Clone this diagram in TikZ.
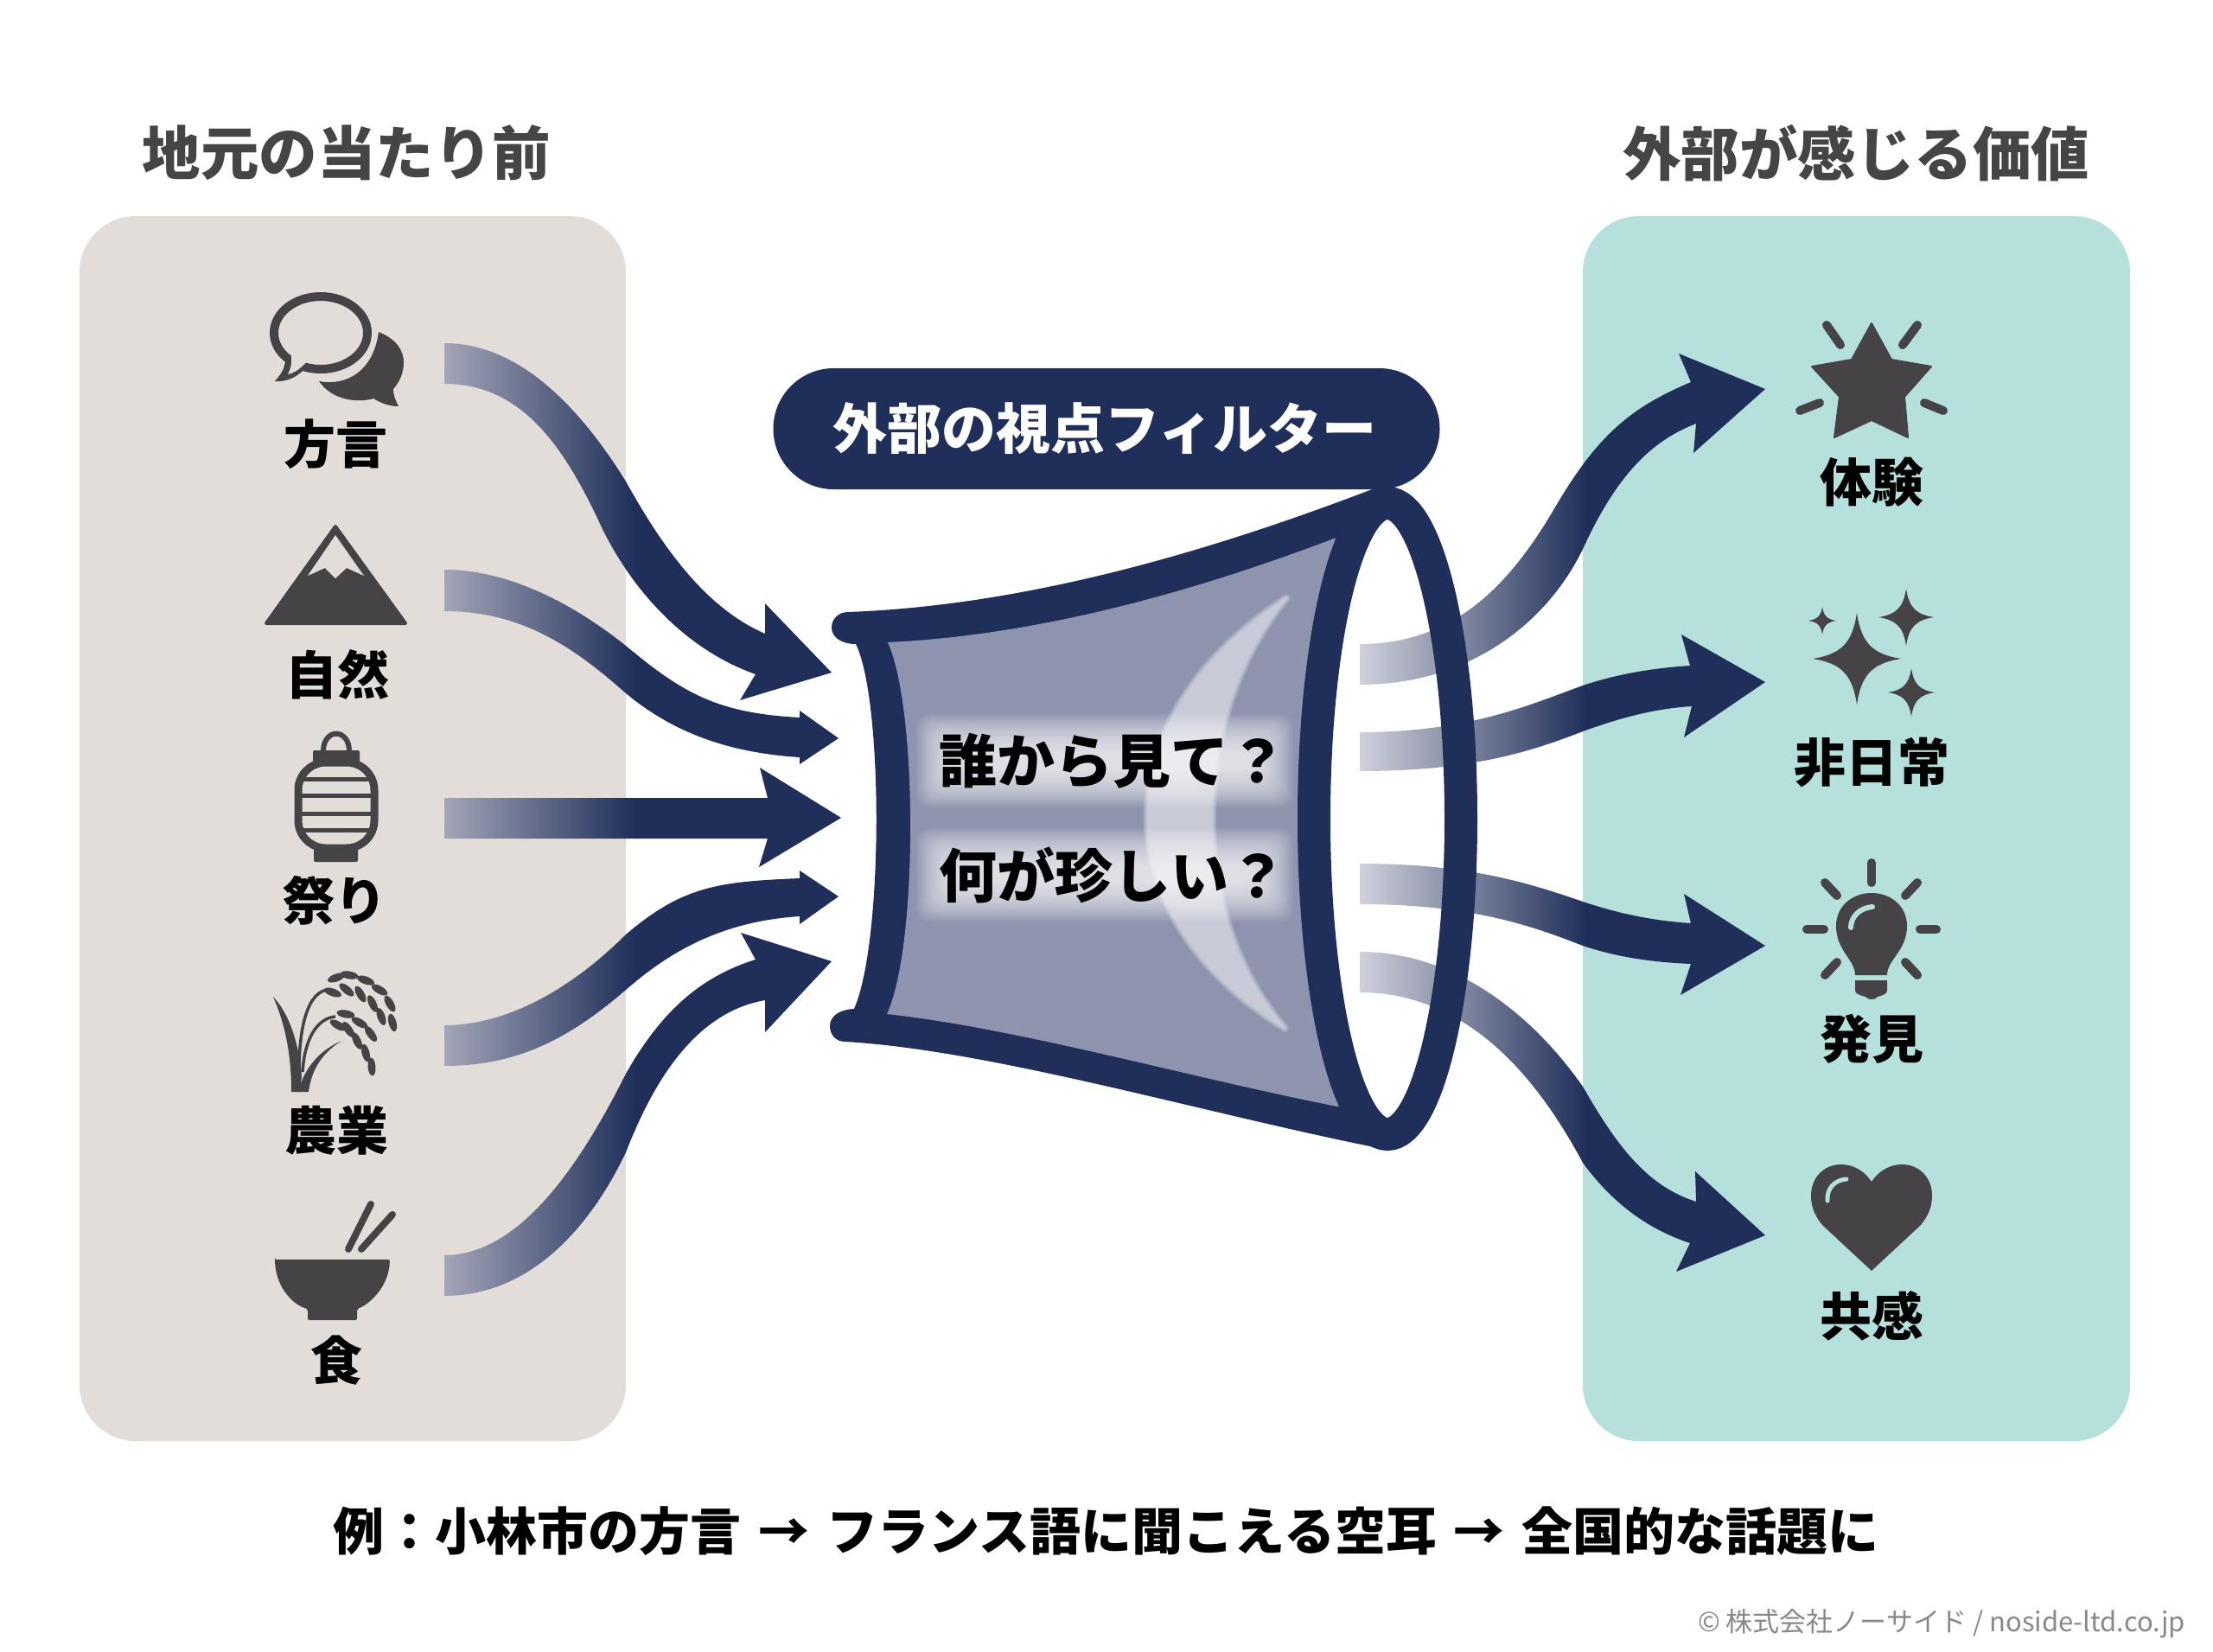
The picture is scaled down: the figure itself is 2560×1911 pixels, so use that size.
\documentclass[tikz,border=0pt]{standalone}
\usepackage{fontspec}
\newfontfamily\jp{Noto Sans CJK JP}
\definecolor{navy}{HTML}{1F2F5A}
\definecolor{icon}{HTML}{454345}
\definecolor{head}{HTML}{454545}
\definecolor{lpanel}{HTML}{E2DDD8}
\definecolor{rpanel}{HTML}{B6E0DC}
\definecolor{membrane}{HTML}{8E94AE}
\definecolor{fadeL}{HTML}{A3A5B8}
\definecolor{fadeR}{HTML}{D0D1DB}
\definecolor{copyr}{HTML}{888888}
\newcommand{\jpsize}[1]{\jp\fontsize{#1}{#1}\selectfont}
\tikzset{
  panelbox/.style={rounded corners=65pt},
  headtext/.style={inner sep=0pt,text=head,font=\jpsize{67.5}\bfseries},
  itemtext/.style={inner sep=0pt,text=black,font=\jpsize{60}\bfseries},
  asktext/.style={inner sep=0pt,anchor=west,text=black,font=\jpsize{67}\bfseries},
  iconfill/.style={fill=icon,draw=icon,line width=2pt,line join=round},
  rayline/.style={draw=icon,line width=10pt,line cap=round},
}
\newcommand{\flowarrow}[4]{%
  \begin{scope}
    \clip #4;
    \shade[left color=#3,right color=navy] (#1,0) rectangle (#2,1911);
    \fill[navy] ({#2-1},0) rectangle (2100,1911);
  \end{scope}}
\newcommand{\mygrain}[3]{\fill[icon,shift={(#1,#2)},rotate=-#3] (0,0) circle[x radius=10.5pt,y radius=4.5pt];}
\newcommand{\sparkle}[4]{\fill[icon] (#1,{#2-#4})
  .. controls ({#1+0.1*#3},{#2-0.35*#4}) and ({#1+0.35*#3},{#2-0.1*#4}) .. ({#1+#3},#2)
  .. controls ({#1+0.35*#3},{#2+0.1*#4}) and ({#1+0.1*#3},{#2+0.35*#4}) .. (#1,{#2+#4})
  .. controls ({#1-0.1*#3},{#2+0.35*#4}) and ({#1-0.35*#3},{#2+0.1*#4}) .. ({#1-#3},#2)
  .. controls ({#1-0.35*#3},{#2-0.1*#4}) and ({#1-0.1*#3},{#2-0.35*#4}) .. cycle;}
\begin{document}
\begin{tikzpicture}[x=1pt,y=-1pt]
\useasboundingbox (0,0) rectangle (2560,1911);
\fill[white] (0,0) rectangle (2560,1911);

% panels
\fill[lpanel,panelbox] (92,250) rectangle (724,1667);
\fill[rpanel,panelbox] (1831,250) rectangle (2464,1667);

% headings
\node[headtext] (hl) at (401,177) {地元の当たり前};
\node[headtext] (hr) at (2147,177) {外部が感じる価値};

% named ends of the connectors
\coordinate (a1s) at (514,397); \coordinate (a1b) at (514,444); \coordinate (a1t) at (962,778);
\coordinate (a2s) at (514,659); \coordinate (a2b) at (514,707); \coordinate (a2t) at (970,854);
\coordinate (a3s) at (514,923); \coordinate (a3b) at (514,970); \coordinate (a3t) at (973,946);
\coordinate (a4s) at (514,1186); \coordinate (a4b) at (514,1233); \coordinate (a4t) at (970,1037);
\coordinate (a5s) at (514,1452); \coordinate (a5b) at (514,1499); \coordinate (a5t) at (962,1112);
\coordinate (b1s) at (1573,745); \coordinate (b1b) at (1573,792); \coordinate (b1t) at (2042,450);
\coordinate (b2s) at (1573,847); \coordinate (b2b) at (1573,892); \coordinate (b2t) at (2042,789);
\coordinate (b3s) at (1573,999); \coordinate (b3b) at (1573,1046); \coordinate (b3t) at (2042,1094);
\coordinate (b4s) at (1573,1101); \coordinate (b4b) at (1573,1148); \coordinate (b4t) at (2042,1429);

% incoming arrows
\flowarrow{514}{735}{fadeL}{(a1s) .. controls (600,397) and (670,470) .. (724,557)
  .. controls (770,640) and (820,705) .. (885,733) -- (885,698) -- (a1t) -- (856,810) -- (874,780)
  .. controls (790,750) and (730,680) .. (696,610) .. controls (650,510) and (600,444) .. (a1b) -- cycle}
\flowarrow{514}{735}{fadeL}{(a2s) .. controls (590,659) and (665,700) .. (724,747)
  .. controls (790,802) and (830,825) .. (925,830) -- (925,822) -- (a2t) -- (925,884) -- (925,876)
  .. controls (830,870) and (770,840) .. (724,802) .. controls (660,745) and (600,707) .. (a2b) -- cycle}
\flowarrow{514}{735}{fadeL}{(a3s) -- (888,923) -- (879,888) -- (a3t) -- (878,1003) -- (888,970) -- (a3b) -- cycle}
\flowarrow{514}{735}{fadeL}{(a4s) .. controls (590,1186) and (665,1140) .. (724,1081)
  .. controls (790,1025) and (830,1020) .. (925,1016) -- (925,1007) -- (a4t) -- (925,1069) -- (925,1060)
  .. controls (830,1066) and (770,1105) .. (724,1145) .. controls (660,1200) and (600,1233) .. (a4b) -- cycle}
\flowarrow{514}{735}{fadeL}{(a5s) .. controls (600,1452) and (670,1350) .. (724,1242)
  .. controls (765,1170) and (810,1130) .. (874,1110) -- (857,1079) -- (a5t) -- (885,1194) -- (885,1157)
  .. controls (810,1170) and (760,1240) .. (724,1333) .. controls (680,1425) and (610,1499) .. (a5b) -- cycle}

% filter funnel
\fill[navy,line join=round] (981,708) .. controls (1200,700) and (1420,630) .. (1590,565) -- (1605,1330)
  .. controls (1400,1290) and (1150,1215) .. (978,1205) .. controls (966,1205) and (960,1196) .. (960,1187)
  .. controls (960,1176) and (970,1168) .. (988,1167)
  .. controls (1022,1090) and (1022,810) .. (990,745) .. controls (972,745) and (962,736) .. (962,726)
  .. controls (962,716) and (970,708) .. (981,708) -- cycle;
\fill[membrane] (1027,743) .. controls (1200,735) and (1380,685) .. (1543,623) -- (1600,623) -- (1600,1280) -- (1547,1280)
  .. controls (1370,1245) and (1180,1190) .. (1026,1173) .. controls (1062,1095) and (1062,820) .. (1027,743) -- cycle;
\foreach \w in {10,7.5,5,2.5,0.5} {
  \begin{scope}[transparency group,opacity=.14]
  \path[fill=white,draw=white,line join=round,line width=\w pt] (1488,692) .. controls (1274,830) and (1274,1060) .. (1486,1189)
    .. controls (1374,1060) and (1374,830) .. (1488,692) -- cycle;
  \end{scope}
}
\foreach \d in {20,18,...,-24} {
  \fill[white,opacity=.06,rounded corners=16pt] ({1080-\d},{846-\d}) rectangle ({1476+\d},{914+\d});
  \fill[white,opacity=.06,rounded corners=16pt] ({1080-\d},{978-\d}) rectangle ({1476+\d},{1046+\d});
}
\fill[white] (1604,947) circle[x radius=66pt,y radius=347pt];

% outgoing arrows
\flowarrow{1573}{1835}{fadeR}{(b1s) .. controls (1680,745) and (1745,680) .. (1800,585)
  .. controls (1850,500) and (1890,470) .. (1956,442) -- (1942,409) -- (b1t) -- (1959,524) -- (1962,490)
  .. controls (1910,510) and (1870,550) .. (1831,635) .. controls (1790,720) and (1700,792) .. (b1b) -- cycle}
\flowarrow{1573}{1835}{fadeR}{(b2s) .. controls (1700,847) and (1770,815) .. (1831,793)
  .. controls (1870,780) and (1910,773) .. (1955,770) -- (1945,734) -- (b2t) -- (1948,853) -- (1957,817)
  .. controls (1910,820) and (1870,832) .. (1831,846) .. controls (1770,870) and (1700,892) .. (b2b) -- cycle}
\flowarrow{1573}{1835}{fadeR}{(b3s) .. controls (1700,999) and (1770,1022) .. (1831,1043)
  .. controls (1870,1056) and (1910,1065) .. (1956,1068) -- (1948,1034) -- (b3t) -- (1944,1151) -- (1956,1115)
  .. controls (1910,1113) and (1870,1107) .. (1831,1094) .. controls (1770,1070) and (1700,1046) .. (b3b) -- cycle}
\flowarrow{1573}{1835}{fadeR}{(b4s) .. controls (1680,1101) and (1770,1170) .. (1831,1257)
  .. controls (1870,1325) and (1905,1372) .. (1962,1390) -- (1961,1355) -- (b4t) -- (1939,1471) -- (1955,1438)
  .. controls (1900,1420) and (1860,1385) .. (1831,1345) .. controls (1780,1250) and (1700,1148) .. (b4b) -- cycle}

% ring of the funnel
\draw[navy,line width=38pt] (1605,947) circle[x radius=85pt,y radius=365pt];

% pill
\node[fill=navy,rounded corners=70pt,minimum width=771pt,minimum height=140pt,inner sep=0pt] (pillbox) at (1280,496) {};
\node[inner sep=0pt,text=white,font=\jpsize{63}\bfseries] (pill) at (1278,496) {外部の視点フィルター};

\node[asktext] (ask1) at (1086,880) {誰から見て？};
\node[asktext] (ask2) at (1086,1012) {何が珍しい？};

% left icons
\draw[icon,line width=10pt] (371,385) circle[x radius=54pt,y radius=42pt];
\fill[icon,line join=round] (330,412) .. controls (331,425) and (325,433) .. (318,441) .. controls (332,442) and (345,436) .. (356,423) -- (345,410) -- cycle;
\fill[lpanel] (337,409) .. controls (338,420) and (336,428) .. (333,433) .. controls (342,431) and (349,425) .. (356,417) -- (345,405) -- cycle;
\fill[icon] (438,384) .. controls (458,392) and (467,405) .. (467,419) .. controls (467,432) and (462,442) .. (455,450)
  .. controls (455,458) and (458,464) .. (461,470) .. controls (450,470) and (440,466) .. (432,461)
  .. controls (415,466) and (385,464) .. (369,441) .. controls (400,447) and (432,430) .. (438,384) -- cycle;
\node[itemtext] (l1) at (388,514) {方言};

\fill[icon,draw=icon,line width=4pt,line join=round] (388,609) -- (469,721) -- (308,721) -- cycle;
\fill[lpanel] (388,619) -- (421,666) -- (401,657) -- (388,669) -- (376,657) -- (356,666) -- cycle;
\node[itemtext] (l2) at (390,780) {自然};

\draw[icon,line width=6pt] (374,869) .. controls (374,842) and (404,842) .. (404,869);
\fill[icon,rounded corners=2pt] (362,868) rectangle (416,886);
\fill[icon,rounded corners=2pt] (363,978) rectangle (414,997);
\draw[icon,fill=lpanel,line width=9pt,rounded corners=32pt] (345,882) rectangle (433,981);
\foreach \y in {901,920,941,960} \draw[icon,line width=5pt] (345,\y) -- (433,\y);
\node[itemtext] (l3) at (387,1042) {祭り};

\fill[icon] (316,1153) .. controls (332,1170) and (345,1200) .. (349,1245) -- (347,1263) -- (337,1263) .. controls (337,1220) and (330,1185) .. (316,1153) -- cycle;
\fill[icon] (395,1204) .. controls (370,1215) and (352,1235) .. (345,1263) -- (357,1263) .. controls (360,1240) and (370,1220) .. (395,1204) -- cycle;
\draw[icon,line width=3.5pt] (346,1250) .. controls (345,1200) and (352,1150) .. (378,1145);
\draw[icon,line width=3.5pt] (350,1240) .. controls (352,1205) and (365,1178) .. (388,1176);
\mygrain{389}{1131}{-20}\mygrain{404}{1128}{10}\mygrain{423}{1134}{20}\mygrain{439}{1145}{30}\mygrain{451}{1161}{60}
\mygrain{385}{1148}{20}\mygrain{401}{1145}{40}\mygrain{417}{1150}{60}\mygrain{431}{1161}{65}\mygrain{441}{1176}{70}\mygrain{454}{1183}{75}
\mygrain{400}{1173}{10}\mygrain{416}{1183}{30}\mygrain{429}{1196}{55}\mygrain{391}{1186}{30}\mygrain{403}{1191}{55}\mygrain{413}{1204}{65}\mygrain{423}{1218}{75}\mygrain{430}{1234}{85}
\node[itemtext] (l4) at (389,1308) {農業};

\fill[icon,rounded corners=2pt] (318,1457) -- (451,1457) .. controls (450,1490) and (425,1510) .. (413,1514) -- (413,1527) -- (356,1527) -- (356,1514) .. controls (340,1510) and (319,1490) .. (318,1457) -- cycle;
\draw[icon,line width=8pt,line cap=round] (429,1393) -- (403,1445);
\draw[icon,line width=8pt,line cap=round] (454,1405) -- (418,1445);
\node[itemtext] (l5) at (389,1574) {食};

% right icons
\fill[iconfill] (2165,374) -- (2188,416) -- (2234,424) -- (2203,459) -- (2207,506) -- (2165,486) -- (2122,506) -- (2128,459) -- (2096,424) -- (2142,416) -- cycle;
\draw[rayline] (2113,376) -- (2129,399);
\draw[rayline] (2218,376) -- (2201,399);
\draw[rayline] (2082,475) -- (2105,466);
\draw[rayline] (2248,475) -- (2226,466);
\node[itemtext] (r1) at (2165,558) {体験};

\sparkle{2148}{762}{51}{53}
\sparkle{2205}{714}{32}{33}
\sparkle{2108}{718}{16}{16}
\sparkle{2211}{801}{27}{28}
\node[itemtext] (r2) at (2165,882) {非日常};

\fill[icon] (2146,1128) .. controls (2146,1110) and (2124,1100) .. (2124,1071) .. controls (2124,1048) and (2143,1033) .. (2165,1033)
  .. controls (2187,1033) and (2206,1048) .. (2206,1071) .. controls (2206,1100) and (2183,1110) .. (2183,1128) -- cycle;
\fill[icon] (2146,1134) -- (2183,1134) -- (2183,1146) .. controls (2183,1150) and (2176,1152) .. (2172,1153) .. controls (2170,1157) and (2160,1157) .. (2158,1153) .. controls (2154,1152) and (2146,1150) .. (2146,1146) -- cycle;
\draw[rpanel,line width=6pt,line cap=round] (2141,1073) .. controls (2141,1060) and (2152,1050) .. (2166,1049);
\draw[rayline] (2165,998) -- (2165,1021);
\draw[rayline] (2111,1021) -- (2125,1036);
\draw[rayline] (2218,1021) -- (2204,1036);
\draw[rayline] (2090,1075) -- (2110,1075);
\draw[rayline] (2221,1075) -- (2240,1075);
\draw[rayline] (2111,1128) -- (2125,1113);
\draw[rayline] (2218,1128) -- (2204,1113);
\node[itemtext] (r3) at (2165,1202) {発見};

\fill[icon] (2165,1470) -- (2108,1417) .. controls (2100,1407) and (2095,1397) .. (2095,1383) .. controls (2095,1362) and (2110,1347) .. (2130,1347)
  .. controls (2145,1347) and (2158,1356) .. (2165,1367) .. controls (2172,1356) and (2185,1347) .. (2200,1347)
  .. controls (2220,1347) and (2235,1362) .. (2235,1383) .. controls (2235,1397) and (2230,1407) .. (2222,1417) -- cycle;
\draw[rpanel,line width=5pt,line cap=round] (2114,1389) .. controls (2113,1375) and (2122,1365) .. (2136,1364);
\node[itemtext] (r4) at (2165,1522) {共感};

% caption
\node[inner sep=0pt,text=black,font=\jpsize{59}\bfseries] (cap) at (1280,1771) {\spaceskip=20pt 例：小林市の方言 → フランス語に聞こえる空耳 → 全国的な話題に};
\node[inner sep=0pt,anchor=east,text=copyr,font=\jpsize{31}] (copy) at (2528,1878) {© 株式会社ノーサイド / noside-ltd.co.jp};
\end{tikzpicture}
\end{document}
